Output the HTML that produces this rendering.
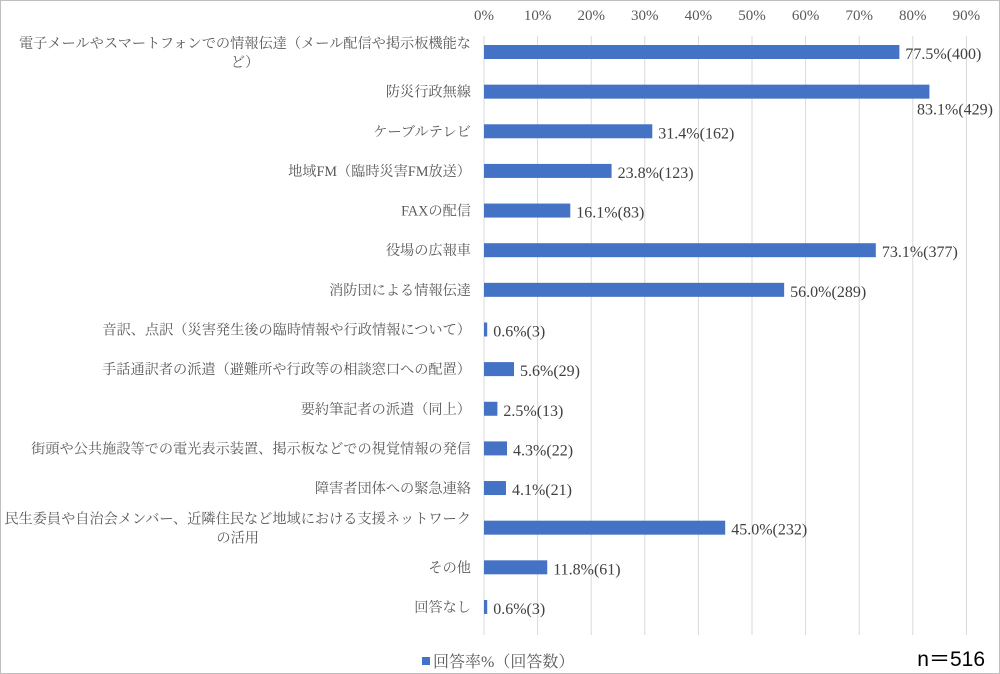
<!DOCTYPE html>
<html><head><meta charset="utf-8"><style>
body{margin:0;background:#fff}
svg{display:block}
</style></head><body>
<svg id="c" width="1000" height="674" xmlns="http://www.w3.org/2000/svg" font-family="'Liberation Serif','Noto Serif CJK JP',serif">
<rect x="0.5" y="0.5" width="999" height="673" fill="#fff" stroke="#bfbfbf"/>
<g id="grid"></g>
<g id="ticks"></g>
<g id="labels"></g>
<g id="bars"></g>
<g id="vals"></g>
<g>
<rect x="422" y="657" width="8" height="8" fill="#4472c4"/>
<text x="433" y="667" font-size="16" fill="#595959">回答率%（回答数）</text>
</g>
<text x="985" y="666" text-anchor="end" font-size="21" fill="#000" font-family="'Liberation Sans','Noto Sans CJK JP',sans-serif">n＝516</text>
</svg>
<script>
const categories=[["電子メールやスマートフォンでの情報伝達（メール配信や掲示板機能な","ど）"],["防災行政無線"],["ケーブルテレビ"],["地域FM（臨時災害FM放送）"],["FAXの配信"],["役場の広報車"],["消防団による情報伝達"],["音訳、点訳（災害発生後の臨時情報や行政情報について）"],["手話通訳者の派遣（避難所や行政等の相談窓口への配置）"],["要約筆記者の派遣（同上）"],["街頭や公共施設等での電光表示装置、掲示板などでの視覚情報の発信"],["障害者団体への緊急連絡"],["民生委員や自治会メンバー、近隣住民など地域における支援ネットワーク","の活用"],["その他"],["回答なし"]];
const percents=[77.5,83.1,31.4,23.8,16.1,73.1,56.0,0.6,5.6,2.5,4.3,4.1,45.0,11.8,0.6];
const counts=[400,429,162,123,83,377,289,3,29,13,22,21,232,61,3];
const tickValues=[0,10,20,30,40,50,60,70,80,90];
const NS="http://www.w3.org/2000/svg";
const x0=484,pxPer=5.36,y0=52,step=39.64,bh=14;
const xs=v=>x0+v*pxPer, ys=i=>y0+i*step;
function mk(tag,attrs,parent,text){const e=document.createElementNS(NS,tag);for(const k in attrs)e.setAttribute(k,attrs[k]);if(text!==undefined)e.textContent=text;document.getElementById(parent).appendChild(e);return e;}
tickValues.forEach(t=>{
 const g=mk('line',{x1:xs(t),x2:xs(t),y1:36,y2:635,stroke:'#d9d9d9','stroke-width':1},'grid');
 
 
 const l=mk('text',{x:xs(t),y:20,'text-anchor':'middle','font-size':15,fill:'#595959'},'ticks',t+'%');
 
 
});
categories.forEach((c,i)=>{
 const y=ys(i);
 if(c.length===1){
  const t=mk('text',{x:471,y:y+5,'text-anchor':'end','font-size':14.2,fill:'#595959'},'labels',c[0]);
  
  
 }else{
  const t=mk('text',{x:471,y:y-4,'text-anchor':'end','font-size':14.2,fill:'#595959'},'labels',c[0]);
  
  
  const w=t.getComputedTextLength();
  const t2=mk('text',{x:471-w/2,y:y+15,'text-anchor':'middle','font-size':14.2,fill:'#595959'},'labels',c[1]);
  
  
 }
 const b=mk('rect',{x:x0,y:y-bh/2,width:Math.max(xs(percents[i])-x0,1.5),height:bh,fill:'#4472c4'},'bars');
 
 
 const txt=percents[i].toFixed(1)+'%('+counts[i]+')';
 const end=xs(percents[i]);
 let vx=end+6,vy=y+7,anchor='start';
 if(end>920){vx=993;vy=y+23;anchor='end';}
 const v=mk('text',{x:vx,y:vy,'text-anchor':anchor,'font-size':16,fill:'#404040'},'vals',txt);
 
 
});
</script>
</body></html>
